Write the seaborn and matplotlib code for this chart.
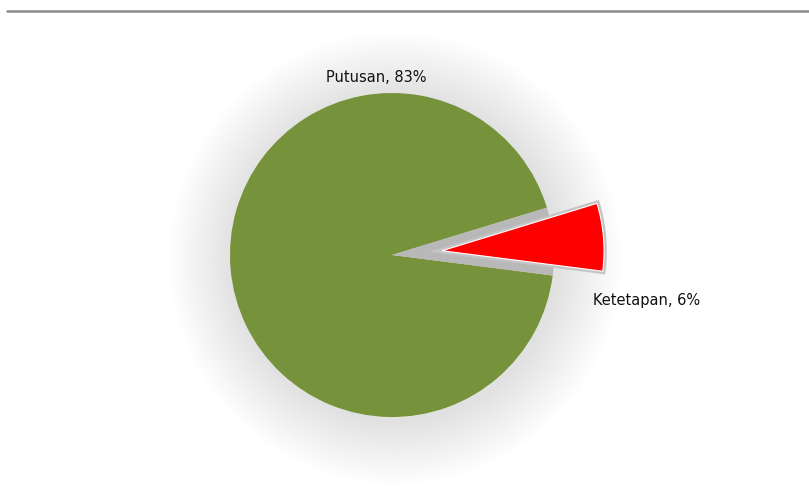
import matplotlib
matplotlib.use("Agg")
import matplotlib.pyplot as plt
import seaborn as sns
from matplotlib.patches import Circle
from matplotlib.lines import Line2D

sns.set_theme(style="white")
plt.rcParams['font.family'] = ['DejaVu Sans']

categories = ["Putusan", "Ketetapan"]
values = [83, 6]
colors = ["#76923A", "#FF0000"]

W, H = 809, 488
fig = plt.figure(figsize=(W / 100, H / 100), dpi=100)
ax = fig.add_axes([0, 0, 1, 1])
cx, cy, R = 392, 255, 162
ax.axis("off")

# soft shadow glow
n = 30
for i in range(n):
    r = 1.0 + 0.40 * (1 - i / n)
    ax.add_patch(Circle((0.02, -0.02), r, color="#000000", alpha=0.004, lw=0, zorder=1))

# base pie: green + gray placeholder for the exploded slice
ax.pie(values, colors=[colors[0], "#B8B8B8"], startangle=17, counterclock=True,
       radius=1.0, wedgeprops=dict(edgecolor="none", linewidth=0, zorder=2))
# exploded red slice with gray rim
wedges, _ = ax.pie(values, colors=["none", colors[1]], explode=[0, 0.31], startangle=17,
                   counterclock=True, radius=1.0,
                   wedgeprops=dict(linewidth=0, zorder=3))
wedges[0].set_visible(False)
wedges[1].set_edgecolor("#C4C4C4")
wedges[1].set_linewidth(4)
wedges[1].set_zorder(3)
wedges2, _ = ax.pie(values, colors=["none", colors[1]], explode=[0, 0.31], startangle=17,
                    counterclock=True, radius=1.0,
                    wedgeprops=dict(edgecolor="white", linewidth=0.8, zorder=4))
wedges2[0].set_visible(False)
ax.set_xlim(-cx / R, (W - cx) / R)
ax.set_ylim(-(H - cy) / R, cy / R)
ax.set_aspect("auto")

labels = [f"{c}, {v}%" for c, v in zip(categories, values)]
ax.text((376 - cx) / R, (cy - 77) / R, labels[0], ha="center", va="center", fontsize=10.5, color="#111111")
ax.text((647 - cx) / R, (cy - 300) / R, labels[1], ha="center", va="center", fontsize=10.5, color="#111111")

fig.add_artist(Line2D([7 / W, 1], [1 - 11 / H, 1 - 11 / H], color="#8A8A8A", lw=1.8))

fig.savefig("out.png", dpi=100)
